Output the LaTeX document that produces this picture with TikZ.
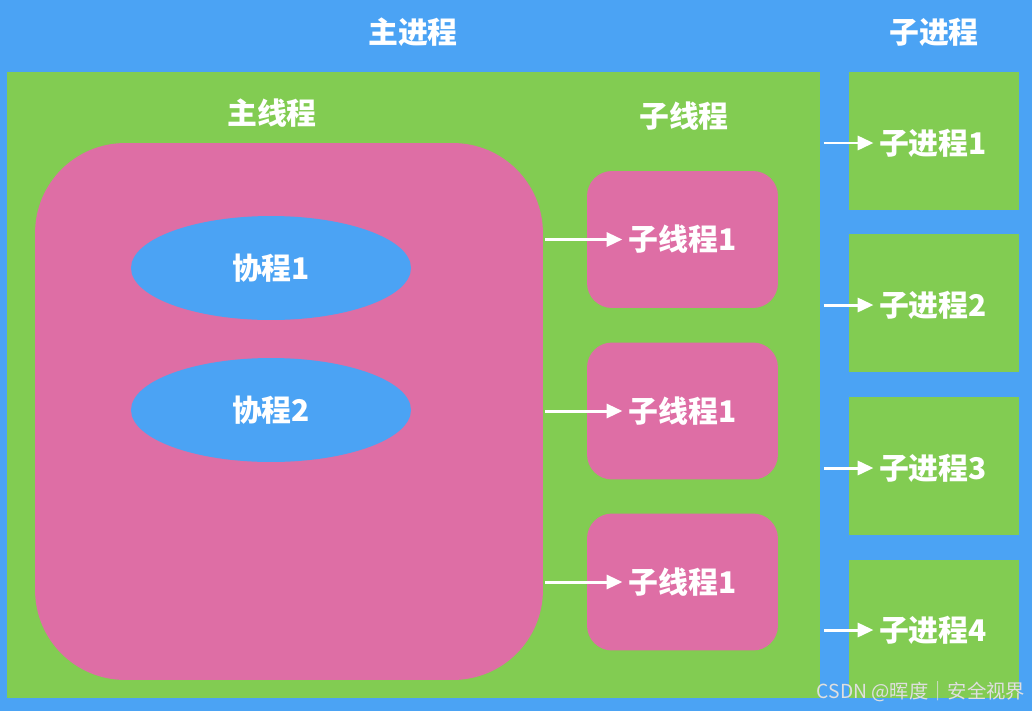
\documentclass[tikz,border=0pt]{standalone}
\usepackage{fontspec}
\setmainfont{Noto Sans CJK SC}
\usepackage{tikz}
\usetikzlibrary{arrows.meta, shapes.geometric}

\definecolor{bgblue}{RGB}{75,163,244}
\definecolor{leaf}{RGB}{130,204,82}
\definecolor{rose}{RGB}{222,110,165}

\tikzset{
    lbl/.style={text=white, font=\fontsize{17}{20}\selectfont\bfseries},
    arr/.style={white, line width=1.7pt, -{Triangle[length=9pt, width=8pt]}},
    thrbox/.style={fill=rose, rounded corners=0.5cm, minimum width=3.82cm, minimum height=2.74cm, inner sep=0},
    prcbox/.style={fill=leaf, minimum width=3.4cm, minimum height=2.76cm, inner sep=0},
    coro/.style={ellipse, fill=bgblue, minimum width=5.6cm, minimum height=2.08cm, inner sep=0}
}

\begin{document}
\begin{tikzpicture}[x=0.02cm, y=-0.02cm]
    % background
    \fill[bgblue] (0, 0) rectangle (1032, 711);
    \useasboundingbox (0, 0) rectangle (1032, 711);

    % main process
    \node[fill=leaf, minimum width=16.26cm, minimum height=12.52cm, inner sep=0] (proc) at (413.5, 385) {};
    \node[lbl] (proct) at (413, 32) {主进程};
    \node[lbl] (subt) at (934, 32) {子进程};

    % main thread
    \node[lbl] (mainth) at (272, 113) {主线程};
    \node[fill=rose, rounded corners=1.8cm, minimum width=10.16cm, minimum height=10.74cm, inner sep=0] (main) at (289, 411.5) {};
        % coroutines
        \node[coro] (co1) at (271, 268) {};
        \node[lbl] at (co1) {协程1};
        \node[coro] (co2) at (271, 410) {};
        \node[lbl] at (co2) {协程2};

    % sub threads
    \node[lbl] (subth) at (684, 116) {子线程};
    \node[thrbox] (th1) at (682.5, 239.5) {};
    \node[thrbox] (th2) at (682.5, 411) {};
    \node[thrbox] (th3) at (682.5, 582) {};
    \node[lbl] (tt1) at (th1) {子线程1};
    \node[lbl] (tt2) at (th2) {子线程1};
    \node[lbl] (tt3) at (th3) {子线程1};
    \draw[arr] ([xshift=1pt]main.east |- tt1) -- (tt1.west);
    \draw[arr] ([xshift=1pt]main.east |- tt2) -- (tt2.west);
    \draw[arr] ([xshift=1pt]main.east |- tt3) -- (tt3.west);

    % sub processes
    \node[prcbox] (pr1) at (934, 141) {};
    \node[prcbox] (pr2) at (934, 303) {};
    \node[prcbox] (pr3) at (934, 466) {};
    \node[prcbox] (pr4) at (934, 629) {};
    \node[lbl, inner sep=3pt] (pt1) at (933, 143) {子进程1};
    \node[lbl, inner sep=3pt] (pt2) at (933, 305) {子进程2};
    \node[lbl, inner sep=3pt] (pt3) at (933, 468) {子进程3};
    \node[lbl, inner sep=3pt] (pt4) at (933, 630) {子进程4};
    \draw[arr] ([xshift=2pt]proc.east |- pt1) -- (pt1.west);
    \draw[arr] ([xshift=2pt]proc.east |- pt2) -- (pt2.west);
    \draw[arr] ([xshift=2pt]proc.east |- pt3) -- (pt3.west);
    \draw[arr] ([xshift=2pt]proc.east |- pt4) -- (pt4.west);

    % watermark
    \node[text=gray!25, font=\fontsize{11}{13}\selectfont] (mark) at (921, 692) {CSDN @晖度｜安全视界};

\end{tikzpicture}
\end{document}
